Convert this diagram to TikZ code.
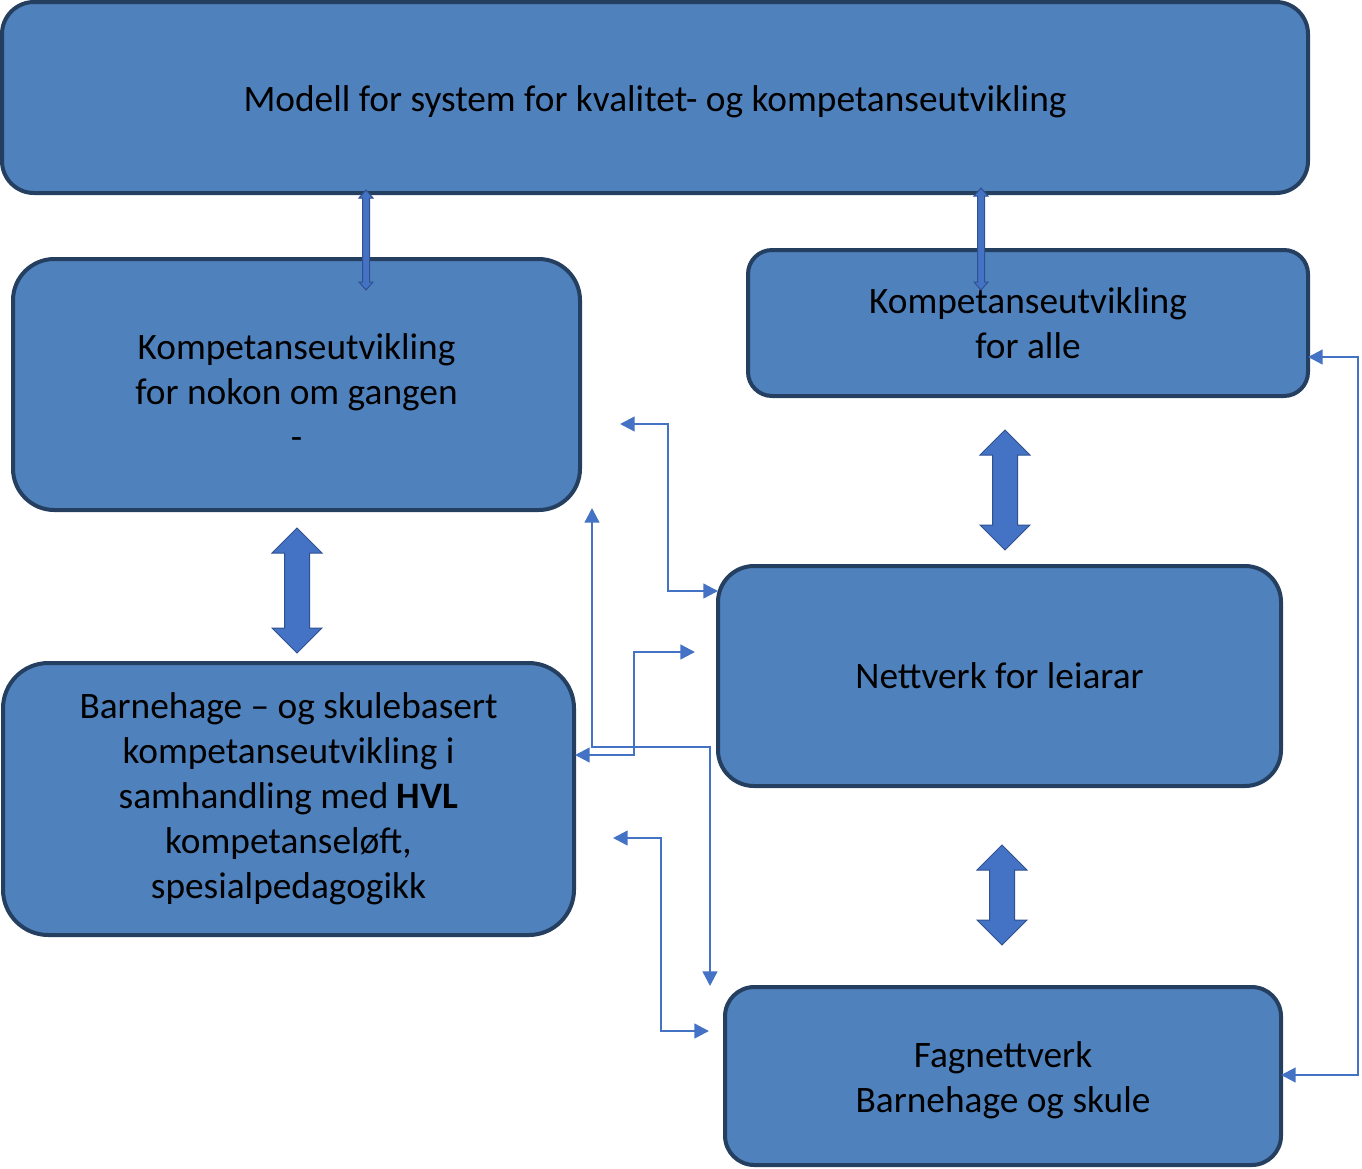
\documentclass[tikz,border=0pt]{standalone}
\usepackage{fontspec}
\setmainfont{Carlito}
\usepackage{xcolor}
\usepackage{tikz}
\usetikzlibrary{arrows.meta}
\definecolor{boxfill}{HTML}{4F81BD}
\definecolor{boxline}{HTML}{243F60}
\definecolor{linkblue}{HTML}{4472C4}
\definecolor{linkdark}{HTML}{2F528F}
% x, top tip, bottom tip, half head, half shaft, head length
\newcommand{\blockarrow}[6]{%
  \filldraw[fill=linkblue, draw=linkdark, line width=0.75pt]
    (#1,#2) -- (#1+#4,#2+#6) -- (#1+#5,#2+#6) -- (#1+#5,#3-#6) -- (#1+#4,#3-#6)
    -- (#1,#3) -- (#1-#4,#3-#6) -- (#1-#5,#3-#6) -- (#1-#5,#2+#6) -- (#1-#4,#2+#6) -- cycle;}

\begin{document}
\begin{tikzpicture}[x=0.75pt, y=-0.75pt,
    box/.style={draw=boxline, fill=boxfill, line width=3pt, align=center,
      font=\fontsize{28}{33.75}\selectfont, inner sep=0pt},
    link/.style={draw=linkblue, line width=1.8pt,
      {Triangle[length=11pt,width=11pt]}-{Triangle[length=11pt,width=11pt]}}]
			\useasboundingbox (0,0) rectangle (1362,1168);
			\node[box, minimum width=979.5pt, minimum height=143.25pt, rounded corners=24pt, text height=26pt] at (655,97.5) (model){Modell for system for kvalitet- og kompetanseutvikling};
			\node[box, minimum width=425.25pt, minimum height=188.25pt, rounded corners=31pt, text height=98pt] at (296.5,384.5) (nokon){Kompetanseutvikling\\for nokon om gangen\\-};
			\node[box, minimum width=420pt, minimum height=109.5pt, rounded corners=18pt] at (1028,323) (alle){Kompetanseutvikling\\for alle};
			\node[box, minimum width=428.25pt, minimum height=204pt, rounded corners=34pt] at (288.5,799) (skule){Barnehage -- og skulebasert\\kompetanseutvikling i\\samhandling med \textbf{HVL}\\kompetanseløft,\\spesialpedagogikk};
			\node[box, minimum width=422.25pt, minimum height=165pt, rounded corners=27pt] at (999.5,676) (leiar){Nettverk for leiarar};
			\node[box, minimum width=417pt, minimum height=133.5pt, rounded corners=22pt, text height=60pt] at (1003,1076) (fag){Fagnettverk\\Barnehage og skule};
			% loose ends of the thin links
			\coordinate (nokonR) at (620,424);
			\coordinate (leiarL) at (718,591);
			\coordinate (nokonB) at (592,508);
			\coordinate (fagT) at (710,986);
			\coordinate (skuleR) at (575,755);
			\coordinate (leiarM) at (695,652);
			\coordinate (skuleL) at (613,838);
			\coordinate (fagL) at (709,1031);
			\coordinate (alleR) at (1308,357);
			\coordinate (fagR) at (1281,1075);
			\draw[link] (nokonR) -- (668,424) |- (leiarL);
			\draw[link] (nokonB) |- (710,747) -- (fagT);
			\draw[link] (skuleR) -| (634,652) -- (leiarM);
			\draw[link] (skuleL) -- (661,838) |- (fagL);
			\draw[link] (alleR) -- (1358,357) |- (fagR);
			% block arrows
			\blockarrow{366}{190}{290}{7}{3.5}{8}
			\blockarrow{981}{188}{290}{7}{3.5}{8}
			\blockarrow{297}{528}{653}{25}{12.5}{25}
			\blockarrow{1005}{430}{550}{25}{12.5}{25}
			\blockarrow{1002}{845}{945}{25}{12.5}{25}
		\end{tikzpicture}
\end{document}
